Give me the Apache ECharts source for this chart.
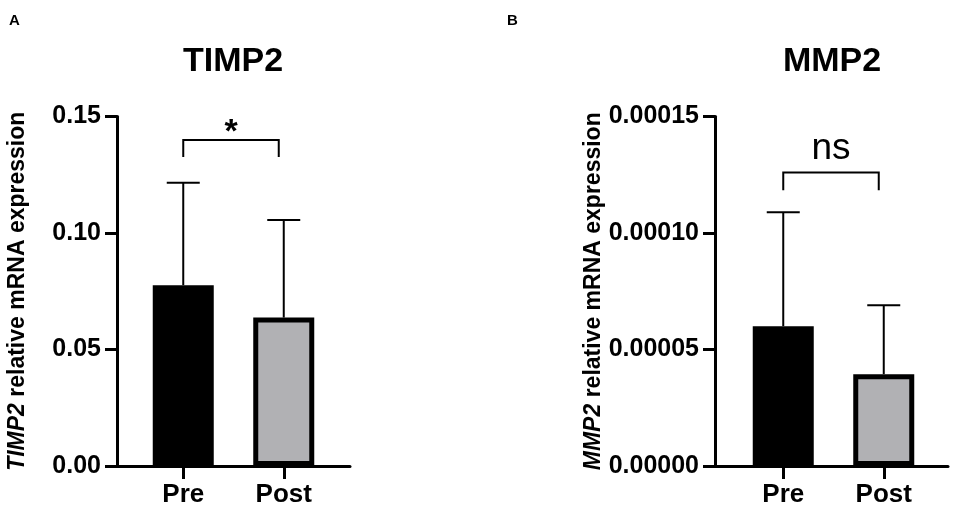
<!DOCTYPE html>
<html>
<head>
<meta charset="utf-8">
<script src="https://cdn.jsdelivr.net/npm/echarts@6/dist/echarts.min.js"></script>
<style>
html,body{margin:0;padding:0;background:#fff;}
#chart{width:957px;height:517px;}
</style>
</head>
<body>
<div id="chart"></div>
<script>
// ---- data ----
const categories = ['Pre', 'Post'];
const timp2Mean = [0.0776, 0.0637];
const timp2Upper = [0.1216, 0.1056];
const mmp2Mean = [0.0000600, 0.0000394];
const mmp2Upper = [0.0001089, 0.0000690];
const timp2Ticks = [0, 0.15, 0.05];      // min, max, interval
const mmp2Ticks = [0, 0.00015, 0.00005];
const timp2Bracket = [0, 1, 0.1399, 0.1326, '*'];
const mmp2Bracket = [0, 1, 0.000126, 0.0001183, 'ns'];

const FONT = "'Liberation Sans', Arial, sans-serif";
const fills = ['#000000', '#b1b1b4'];

function errRender(params, api) {
  const x = api.value(0), m = api.value(1), hi = api.value(2);
  const p0 = api.coord([x, m]);
  const p1 = api.coord([x, hi]);
  const half = 16.5;
  return {
    type: 'group',
    children: [
      {type: 'line', shape: {x1: p0[0], y1: p0[1], x2: p1[0], y2: p1[1]}, style: {stroke: '#000', lineWidth: 2}},
      {type: 'line', shape: {x1: p1[0] - half, y1: p1[1], x2: p1[0] + half, y2: p1[1]}, style: {stroke: '#000', lineWidth: 2}}
    ]
  };
}

function bracketRender(params, api) {
  const a = api.coord([api.value(0), api.value(2)]);
  const b = api.coord([api.value(1), api.value(2)]);
  const fa = api.coord([api.value(0), api.value(3)]);
  const label = params.dataIndex === 0 ? params.seriesName : '';
  const isStar = params.seriesName === '*';
  const xr = b[0] - 5;
  return {
    type: 'group',
    children: [
      {type: 'polyline', shape: {points: [[a[0], fa[1]], [a[0], a[1]], [xr, a[1]], [xr, fa[1]]]},
       style: {stroke: '#000', lineWidth: 2, fill: null}},
      {type: 'text', style: {
        text: label, x: (a[0] + xr) / 2, y: a[1] + (isStar ? -7 : -24),
        align: 'center', verticalAlign: 'middle',
        font: (isStar ? 'bold 34px ' : '37px ') + FONT, fill: '#000'}}
    ]
  };
}

function panel(idx, barLeft, axisLeft, title, titleX, gene, ticks, decimals, mean, upper, bracket) {
  const g0 = idx * 2, g1 = idx * 2 + 1;
  const grids = [
    {left: barLeft, width: 201, top: 116.5, height: 349.5},
    {left: axisLeft, width: 233, top: 116.5, height: 349.5}
  ];
  const xAxes = [
    {gridIndex: g0, type: 'category', data: categories, boundaryGap: true,
     axisLine: {show: false},
     axisTick: {show: true, alignWithLabel: true, length: 13, lineStyle: {color: '#000', width: 3}},
     axisLabel: {color: '#000', fontFamily: FONT, fontWeight: 'bold', fontSize: 26, margin: 16}},
    {gridIndex: g1, type: 'value', min: 0, max: 1,
     axisLine: {show: true, onZero: false, lineStyle: {color: '#000', width: 3}},
     axisTick: {show: false}, axisLabel: {show: false}, splitLine: {show: false}}
  ];
  const yAxes = [
    {gridIndex: g0, type: 'value', min: ticks[0], max: ticks[1], interval: ticks[2],
     offset: barLeft - axisLeft,
     axisLine: {show: true, lineStyle: {color: '#000', width: 3}},
     axisTick: {show: true, length: 12, lineStyle: {color: '#000', width: 3}},
     splitLine: {show: false},
     axisLabel: {color: '#000', fontFamily: FONT, fontWeight: 'bold', fontSize: 25, margin: 16,
                 formatter: v => v.toFixed(decimals)},
     name: '{i|' + gene + '} relative mRNA expression',
     nameLocation: 'middle', nameRotate: 90, nameGap: 88,
     nameTextStyle: {color: '#000', fontFamily: FONT, fontWeight: 'bold', fontSize: 23,
       rich: {i: {fontStyle: 'italic', fontWeight: 'bold', fontSize: 23, fontFamily: FONT, color: '#000'}}}},
    {gridIndex: g1, type: 'value', show: false, min: 0, max: 1}
  ];
  const series = [
    {type: 'bar', xAxisIndex: g0, yAxisIndex: g0, barWidth: 61,
     data: categories.map((c, i) => ({value: mean[i], itemStyle: {color: fills[i], borderColor: '#000', borderWidth: 5}})),
     z: 2},
    {type: 'custom', xAxisIndex: g0, yAxisIndex: g0, renderItem: errRender,
     data: categories.map((c, i) => [i, mean[i], upper[i]]), z: 1},
    {type: 'custom', name: bracket[4], xAxisIndex: g0, yAxisIndex: g0, renderItem: bracketRender,
     data: [[bracket[0], bracket[1], bracket[2], bracket[3]]], z: 3}
  ];
  const titles = [
    {text: title, left: titleX, top: 40, textAlign: 'center',
     textStyle: {fontFamily: FONT, fontWeight: 'bold', fontSize: 34, color: '#000'}}
  ];
  return {grids, xAxes, yAxes, series, titles};
}

const pA = panel(0, 133, 117, 'TIMP2', 228, 'TIMP2', timp2Ticks, 2, timp2Mean, timp2Upper, timp2Bracket);
const pB = panel(1, 733, 715, 'MMP2', 827, 'MMP2', mmp2Ticks, 5, mmp2Mean, mmp2Upper, mmp2Bracket);

const option = {
  animation: false,
  backgroundColor: '#fff',
  title: [
    {text: 'A', left: 4, top: 8, textStyle: {fontFamily: FONT, fontWeight: 'bold', fontSize: 15, color: '#000'}},
    {text: 'B', left: 502, top: 8, textStyle: {fontFamily: FONT, fontWeight: 'bold', fontSize: 15, color: '#000'}},
    ...pA.titles, ...pB.titles
  ],
  grid: [...pA.grids, ...pB.grids],
  xAxis: [...pA.xAxes, ...pB.xAxes],
  yAxis: [...pA.yAxes, ...pB.yAxes],
  series: [...pA.series, ...pB.series]
};

const chart = echarts.init(document.getElementById('chart'), null, {renderer: 'canvas'});
chart.setOption(option);
</script>
</body>
</html>
